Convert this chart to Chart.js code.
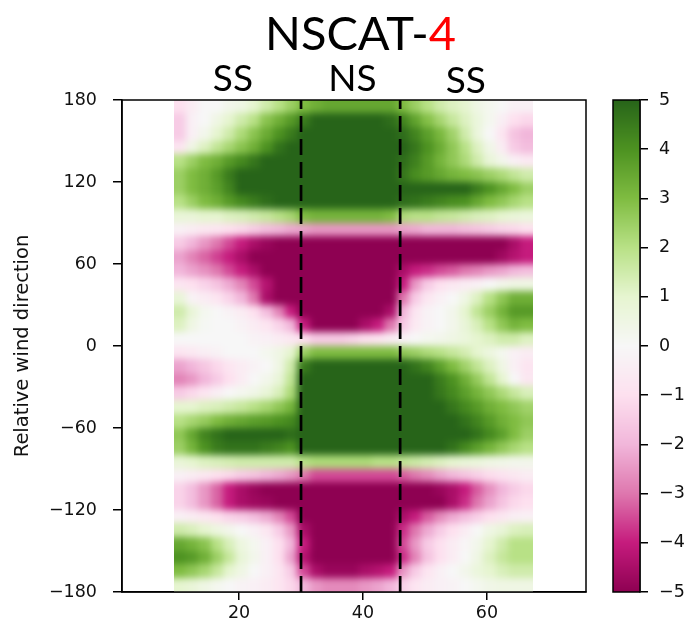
<!DOCTYPE html>
<html><head><meta charset="utf-8">
<script src="https://cdn.jsdelivr.net/npm/chart.js@4.4.1/dist/chart.umd.min.js"></script>
<style>
html,body{margin:0;padding:0;background:#fff;}
#wrap{position:relative;width:695px;height:635px;overflow:hidden;}
#main{position:absolute;left:0;top:0;}
#cbar{position:absolute;left:590px;top:0;}
</style></head><body>
<div id="wrap">
<canvas id="main" width="695" height="635"></canvas>
<canvas id="cbar" width="105" height="635"></canvas>
</div>
<script>
// ---------------- DATA ----------------
// incidence-angle column centres (deg)
const incidence = [10.5,12.5,14.5,16.5,18.5,20.5,22.5,24.5,26.5,28.5,30.5,32.5,34.5,36.5,38.5,40.5,42.5,44.5,46.5,48.5,50.5,52.5,54.5,56.5,58.5,60.5,62.5,64.5,66.5];
// relative wind direction row centres (deg)
const windDir = [175,165,155,145,135,125,115,105,95,85,75,65,55,45,35,25,15,5,-5,-15,-25,-35,-45,-55,-65,-75,-85,-95,-105,-115,-125,-135,-145,-155,-165,-175];
// values read per row (one named array for each wind direction)
const r175 = [-1,-0.5,0,0,0.3,0.5,1,1.5,2,2.5,3,3.3,3.5,3.5,3.5,3.5,3.5,3.5,3,2.5,2,1.5,1.2,1,0.5,0.2,0,-0.3,-0.3];
const r165 = [-1.5,-0.3,0,0.5,1,1.5,2,2.8,3.3,3.8,4.5,5,5,5,5,5,5,4.8,4.3,3.6,2.9,2.3,1.7,1.2,0.7,0.2,-0.4,-1,-1.2];
const r155 = [-1.5,-0.3,0.3,1,1.5,2.2,2.8,3.4,4,4.5,5,5,5,5,5,5,5,5,4.8,4.3,3.7,3.1,2.4,1.5,0.7,0,-0.8,-1.7,-2];
const r145 = [-0.8,0.5,1.2,1.8,2.3,2.8,3.3,4,4.7,5,5,5,5,5,5,5,5,5,5,4.6,4,3.4,2.7,2,1.2,0.4,-0.5,-1.5,-1.8];
const r135 = [2,2.5,3,3.3,3.8,4.2,4.6,5,5,5,5,5,5,5,5,5,5,5,4.8,4.4,3.8,3.2,2.7,2.2,1.5,0.8,0.3,-0.3,-0.6];
const r125 = [2.5,3,3.3,3.8,4.5,5,5,5,5,5,5,5,5,5,5,5,5,5,4.6,4.1,3.8,3.5,3.2,3,2.8,2.5,2.2,1.8,1.5];
const r115 = [2.5,3,3.3,3.7,4.3,5,5,5,5,5,5,5,5,5,5,5,5,5,5,5,5,5,5,5,4.5,4,3.5,3,2.5];
const r105 = [2,2.5,3,3.3,3.8,4.2,4.5,4.8,5,5,5,5,5,5,5,5,5,5,4.8,4.7,4.5,4.3,4.1,4,3.5,3,2.7,2.3,2];
const r95  = [0.8,0.8,1,1,1.2,1.3,1.5,1.7,2,2.3,3,3.2,3.2,3.2,3.2,3.2,3.2,3,2.2,2,2,1.8,1.7,1.5,1.3,1.2,1,0.8,0.7];
const r85  = [-0.3,-0.5,-0.7,-0.8,-1,-1.2,-1.5,-1.8,-2,-2.2,-2.3,-2.5,-2.5,-2.5,-2.5,-2.5,-2.5,-2.5,-2.3,-2.2,-2,-2,-2,-1.8,-1.7,-1.5,-1.3,-1.2,-1];
const r75  = [-1.5,-2,-2.5,-3,-3.5,-4,-4.5,-4.8,-5,-5,-5,-5,-5,-5,-5,-5,-5,-5,-5,-5,-5,-5,-5,-5,-5,-5,-5,-4.5,-4];
const r65  = [-2.3,-2.8,-3.2,-3.6,-4,-4.5,-5,-5,-5,-5,-5,-5,-5,-5,-5,-5,-5,-5,-5,-5,-5,-5,-5,-5,-5,-5,-4.7,-4.3,-4];
const r55  = [-2,-2.3,-2.6,-3,-3.5,-4,-4.5,-5,-5,-5,-5,-5,-5,-5,-5,-5,-5,-5,-4.5,-4,-3.8,-3.5,-3.3,-3,-2.8,-2.5,-2.3,-2,-1.8];
const r45  = [-0.8,-1,-1.3,-1.7,-2.2,-2.8,-3.5,-4.3,-5,-5,-5,-5,-5,-5,-5,-5,-5,-5,-4,-2.5,-1.5,-1,-0.7,-0.5,-0.3,0,0.3,0.5,0.5];
const r35  = [0.8,-0.2,-0.5,-0.8,-1.3,-2,-3,-4.5,-5,-5,-5,-5,-5,-5,-5,-5,-5,-5,-3,-1.5,-0.7,-0.3,0,0.5,1.2,2,2.7,3.3,3.3];
const r25  = [1.5,0.8,0.2,0,-0.2,-0.5,-1,-1.8,-2.8,-4,-5,-5,-5,-5,-5,-5,-5,-4.5,-2,-0.8,-0.2,0,0.3,1,1.8,2.5,3.2,3.8,3.8];
const r15  = [1.2,0.5,0.1,0,0,-0.2,-0.5,-0.8,-1.3,-2,-4,-5,-5,-5,-5,-4.5,-4,-3,-1.5,-0.6,-0.2,0,0.3,0.8,1.3,2,2.7,3.2,3];
const r5   = [0,0,0,0,0,0,-0.2,-0.3,-0.5,-0.7,-1,-1.5,-1.5,-1.5,-1.3,-1,-0.8,-0.5,-0.2,0,0.2,0.3,0.5,0.7,1,1.2,1.5,1.5,1.2];
const rm5  = [-0.8,-0.6,-0.4,-0.2,0,0,0,0.2,0.5,1,2.5,3,3,3,3,3,3,3,2.7,2.5,2.2,2,1.7,1.4,1,0.6,0.2,-0.3,-0.5];
const rm15 = [-2.3,-2,-1.6,-1.2,-0.8,-0.5,-0.2,0,0.5,1.5,4.5,5,5,5,5,5,5,5,5,4.7,4.3,3.7,3,2.4,1.8,1.2,0.5,-0.3,-0.8];
const rm25 = [-2.8,-2.5,-2,-1.5,-1,-0.5,0,0.3,0.8,1.8,5,5,5,5,5,5,5,5,5,5,5,4.5,4,3.3,2.6,1.8,1,0,-0.7];
const rm35 = [-1.5,-1.2,-0.8,-0.4,0,0.2,0.4,0.8,1.3,2.2,5,5,5,5,5,5,5,5,5,5,5,4.6,4.2,3.7,3.2,2.7,2.2,1.7,1.3];
const rm45 = [1,1,1.2,1.3,1.5,1.7,2,2.3,2.7,3.2,5,5,5,5,5,5,5,5,5,5,5,5,4.6,4.2,3.8,3.3,3,2.7,2.4];
const rm55 = [2,2.3,2.6,3,3.3,3.5,3.7,3.8,4,4.2,5,5,5,5,5,5,5,5,5,5,5,5,5,4.7,4.3,3.8,3.3,3,2.7];
const rm65 = [2.7,3.5,4.3,4.7,5,5,5,5,5,4.8,5,5,5,5,5,5,5,5,5,5,5,5,5,5,4.7,4.2,3.7,3,2.5];
const rm75 = [2.5,3.2,4,4.5,4.7,4.7,4.7,4.5,4.3,4,5,5,5,5,5,5,5,5,5,5,5,5,4.7,4.2,3.7,3.2,2.7,2.3,2];
const rm85 = [0.8,1,1.2,1.3,1.4,1.5,1.5,1.5,1.5,1.5,2,2.2,2.2,2.2,2.2,2.2,2,2,1.8,1.6,1.4,1.2,1,0.8,0.7,0.5,0.4,0.3,0.3];
const rm95 = [-0.3,-0.5,-0.7,-1,-1.2,-1.5,-1.7,-2,-2.2,-2.5,-3,-3.5,-3.5,-3.5,-3.5,-3.5,-3.5,-3.5,-3.3,-3,-2.7,-2.3,-2,-1.7,-1.4,-1.1,-0.9,-0.7,-0.5];
const rm105 = [-1.3,-1.8,-2.5,-3.2,-4,-4.5,-4.8,-5,-5,-5,-5,-5,-5,-5,-5,-5,-5,-5,-5,-5,-5,-4.8,-4.5,-4,-3.3,-2.6,-2,-1.5,-1.2];
const rm115 = [-1.3,-1.8,-2.5,-3.2,-4,-4.5,-4.7,-4.8,-5,-5,-5,-5,-5,-5,-5,-5,-5,-5,-5,-5,-5,-5,-4.5,-3.8,-3,-2.3,-1.7,-1.2,-1];
const rm125 = [-0.3,-0.5,-0.7,-1,-1.3,-1.5,-1.8,-2.2,-2.8,-3.5,-5,-5,-5,-5,-5,-5,-5,-5,-4.5,-4,-3.3,-2.7,-2.2,-1.8,-1.4,-1,-0.7,-0.4,-0.3];
const rm135 = [1.5,1.3,1,0.6,0.3,0,-0.3,-0.7,-1.5,-2.5,-4.5,-5,-5,-5,-5,-5,-5,-5,-3.8,-3,-2.2,-1.5,-1,-0.5,0,0.5,0.8,1.2,1.3];
const rm145 = [3.5,3.2,2.8,2,1.3,0.6,0.2,-0.3,-1,-2,-4,-5,-5,-5,-5,-5,-5,-5,-3.5,-2.5,-1.5,-1,-0.5,-0.1,0.3,1,1.5,2,2];
const rm155 = [4,3.8,3.3,2.5,1.7,0.8,0.3,-0.3,-1,-2.3,-4.3,-5,-5,-5,-5,-5,-5,-5,-3.8,-2.8,-1.7,-1,-0.5,0,0.5,1.2,1.7,2,2];
const rm165 = [3,2.7,2.3,1.7,1,0.5,0,-0.3,-0.8,-1.5,-3.5,-4.5,-4.8,-4.8,-4.8,-4.5,-4.3,-4,-2.5,-1.5,-0.8,-0.3,0,0.3,0.7,1,1.3,1.5,1.5];
const rm175 = [1,0.8,0.5,0.2,0,-0.2,-0.3,-0.5,-0.8,-1.2,-2,-2.5,-2.7,-2.7,-2.7,-2.5,-2.3,-2,-1.3,-0.8,-0.5,-0.3,-0.2,0,0.2,0.4,0.5,0.5,0.5];
const rows = [r175,r165,r155,r145,r135,r125,r115,r105,r95,r85,r75,r65,r55,r45,r35,r25,r15,r5,
              rm5,rm15,rm25,rm35,rm45,rm55,rm65,rm75,rm85,rm95,rm105,rm115,rm125,rm135,rm145,rm155,rm165,rm175];

const xTicks = [20, 40, 60];
const yTicks = [-180, -120, -60, 0, 60, 120, 180];
const cbarTicks = [-5,-4,-3,-2,-1,0,1,2,3,4,5];
const dividers = [30, 46];                 // dashed boundaries
const regionLabels = ['SS', 'NS', 'SS'];
const regionX = [19, 38.3, 56.6];
const titleMain = 'NSCAT-';
const titleNum = '4';
const yLabel = 'Relative wind direction';

// ---------------- STYLE ----------------
const COL_HALF = 1, ROW_HALF = 5;
const VMIN = -5, VMAX = 5;
const SMOOTH_PX = 3.5;   // display smoothing of the image (like imshow interpolation)
const PIYG = [[142,1,82],[197,27,125],[222,119,174],[241,182,218],[253,224,239],[247,247,247],
              [230,245,208],[184,225,134],[127,188,65],[77,146,33],[39,100,25]];
function piyg(v) {
  let t = (v - VMIN) / (VMAX - VMIN);
  t = Math.max(0, Math.min(1, t)) * (PIYG.length - 1);
  const i = Math.min(Math.floor(t), PIYG.length - 2), f = t - i;
  const a = PIYG[i], b = PIYG[i + 1];
  return 'rgb(' + [0,1,2].map(k => Math.round(a[k] + (b[k] - a[k]) * f)).join(',') + ')';
}
const minus = v => (v < 0 ? '\u2212' + Math.abs(v) : String(v));
const TICK_FONT = {family: 'DejaVu Sans', size: 17.5};

const heatmapPlugin = {
  id: 'heatmap',
  beforeDatasetsDraw(chart) {
    const {ctx, chartArea: ca} = chart;
    const xs = chart.scales.x, ys = chart.scales.y;
    const off = document.createElement('canvas');
    off.width = chart.width; off.height = chart.height;
    const octx = off.getContext('2d');
    const nR = rows.length, nC = incidence.length, EXT = 25;
    rows.forEach((row, i) => {
      let yT = ys.getPixelForValue(windDir[i] + ROW_HALF);
      let yB = ys.getPixelForValue(windDir[i] - ROW_HALF);
      if (i === 0) yT -= EXT;
      if (i === nR - 1) yB += EXT;
      row.forEach((v, j) => {
        let xL = xs.getPixelForValue(incidence[j] - COL_HALF);
        let xR = xs.getPixelForValue(incidence[j] + COL_HALF);
        if (j === 0) xL -= EXT;
        if (j === nC - 1) xR += EXT;
        octx.fillStyle = piyg(v);
        octx.fillRect(Math.floor(xL), Math.floor(yT), Math.ceil(xR) - Math.floor(xL), Math.ceil(yB) - Math.floor(yT));
      });
    });
    const dL = Math.round(xs.getPixelForValue(incidence[0] - COL_HALF));
    const dR = Math.round(xs.getPixelForValue(incidence[nC - 1] + COL_HALF));
    const dT = Math.max(ca.top, ys.getPixelForValue(windDir[0] + ROW_HALF));
    const dB = Math.min(ca.bottom, ys.getPixelForValue(windDir[nR - 1] - ROW_HALF));
    ctx.save();
    ctx.beginPath(); ctx.rect(dL, dT, dR - dL, dB - dT); ctx.clip();
    ctx.filter = 'blur(' + SMOOTH_PX + 'px)';
    ctx.drawImage(off, 0, 0);
    ctx.restore();
  }
};

const framePlugin = {
  id: 'frame',
  afterDraw(chart) {
    const {ctx, chartArea: ca} = chart;
    ctx.save();
    ctx.strokeStyle = '#000'; ctx.lineWidth = 1.5;
    ctx.strokeRect(ca.left, ca.top, ca.width, ca.height);
    ctx.restore();
  }
};

const textPlugin = {
  id: 'texts',
  afterDraw(chart) {
    const {ctx} = chart;
    const xs = chart.scales.x;
    ctx.save();
    ctx.textBaseline = 'alphabetic';
    ctx.font = '47px Lato';
    const w1 = ctx.measureText(titleMain).width, w2 = ctx.measureText(titleNum).width;
    const cx = 360.5, x0 = cx - (w1 + w2) / 2;
    ctx.textAlign = 'left';
    ctx.fillStyle = '#000'; ctx.fillText(titleMain, x0, 50);
    ctx.fillStyle = '#ff0000'; ctx.fillText(titleNum, x0 + w1, 50);
    ctx.font = '37px Lato';
    ctx.fillStyle = '#000'; ctx.textAlign = 'center';
    regionLabels.forEach((t, i) => {
      ctx.fillText(t, xs.getPixelForValue(regionX[i]), i === 2 ? 93 : 91);
    });
    ctx.restore();
  }
};

new Chart(document.getElementById('main'), {
  type: 'scatter',
  data: {
    datasets: dividers.map(xv => ({
      type: 'line',
      data: [{x: xv, y: -180}, {x: xv, y: 180}],
      borderColor: '#000', borderWidth: 2.7, borderDash: [16, 7],
      pointRadius: 0, fill: false, showLine: true
    }))
  },
  options: {
    responsive: false, animation: false, devicePixelRatio: 1,
    layout: {padding: {left: 0, top: 100, right: 109, bottom: 0}},
    plugins: {legend: {display: false}, tooltip: {enabled: false}, title: {display: false}},
    scales: {
      x: {
        type: 'linear', min: 1.1, max: 76,
        afterBuildTicks: s => { s.ticks = xTicks.map(v => ({value: v})); },
        afterFit: s => { s.height = 43; },
        grid: {drawOnChartArea: false, drawTicks: true, tickLength: 8, color: '#000', lineWidth: 1.5},
        border: {display: true, color: '#000', width: 1.5},
        ticks: {color: '#111', font: TICK_FONT, padding: 3, maxRotation: 0, autoSkip: false}
      },
      y: {
        type: 'linear', min: -180, max: 180,
        afterBuildTicks: s => { s.ticks = yTicks.map(v => ({value: v})); },
        afterFit: s => { s.width = 122; },
        grid: {drawOnChartArea: false, drawTicks: true, tickLength: 9, color: '#000', lineWidth: 1.5},
        border: {display: true, color: '#000', width: 1.5},
        ticks: {color: '#111', font: TICK_FONT, padding: 16, autoSkip: false, callback: v => minus(v)},
        title: {display: true, text: yLabel, color: '#111', font: {family: 'DejaVu Sans', size: 19.5}, padding: {top: 11, bottom: 0}}
      }
    }
  },
  plugins: [heatmapPlugin, framePlugin, textPlugin]
});

// ---------------- COLORBAR ----------------
const cbarPlugin = {
  id: 'cbarGrad',
  beforeDatasetsDraw(chart) {
    const {ctx, chartArea: ca} = chart;
    const ys = chart.scales.y;
    ctx.save();
    for (let py = Math.floor(ca.top); py < Math.ceil(ca.bottom); py++) {
      ctx.fillStyle = piyg(ys.getValueForPixel(py + 0.5));
      ctx.fillRect(ca.left, py, ca.width, 1);
    }
    ctx.strokeStyle = '#000'; ctx.lineWidth = 1.5;
    ctx.strokeRect(ca.left, ca.top, ca.width, ca.height);
    ctx.restore();
  }
};
new Chart(document.getElementById('cbar'), {
  type: 'scatter',
  data: {datasets: [{data: []}]},
  options: {
    responsive: false, animation: false, devicePixelRatio: 1,
    layout: {padding: {left: 23, top: 100, right: 0, bottom: 43}},
    plugins: {legend: {display: false}, tooltip: {enabled: false}},
    scales: {
      x: {display: false},
      y: {
        type: 'linear', position: 'right', min: VMIN, max: VMAX,
        afterBuildTicks: s => { s.ticks = cbarTicks.map(v => ({value: v})); },
        afterFit: s => { s.width = 55; },
        grid: {drawOnChartArea: false, drawTicks: true, tickLength: 8, color: '#000', lineWidth: 1.5},
        border: {display: true, color: '#000', width: 1.5},
        ticks: {color: '#111', font: TICK_FONT, padding: 11, autoSkip: false, callback: v => minus(v)}
      }
    }
  },
  plugins: [cbarPlugin]
});
</script>
</body></html>
